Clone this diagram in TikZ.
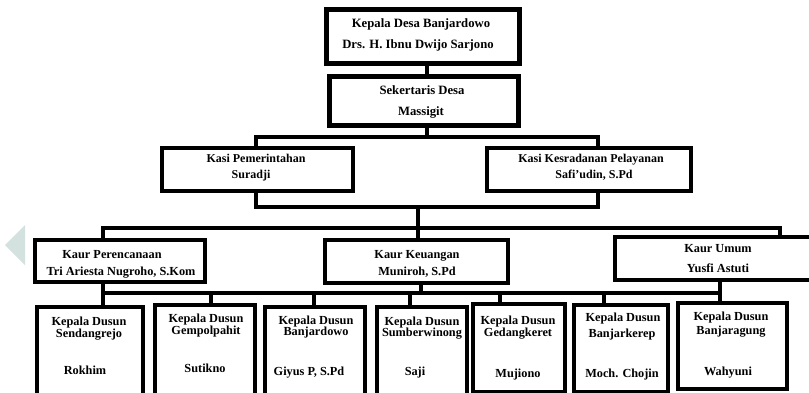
\documentclass[tikz,border=0pt]{standalone}
\usepackage{fontspec}
\setmainfont{Liberation Serif}
\definecolor{wmcol}{RGB}{212,226,223}
\begin{document}
\begin{tikzpicture}[x=1pt,y=-1pt,
  bx/.style={draw=black, fill=white, inner sep=0pt, outer sep=0pt, line width=4.5pt},
  lbl/.style={inner sep=0pt, anchor=base, font=\bfseries\fontsize{12.3}{14}\selectfont},
  lbltop/.style={lbl, font=\bfseries\fontsize{12.7}{14}\selectfont},
  lblkasi/.style={lbl, font=\bfseries\fontsize{12}{14}\selectfont},
  conn/.style={draw=black, line width=4pt, line cap=rect}]
\useasboundingbox (0,0) rectangle (809,392);
\clip (0,0) rectangle (809,392);
\fill[white] (0,0) rectangle (809,392);
% watermark
\fill[wmcol] (5,245) -- (25,225) -- (25,265) -- cycle;

% top
\node[bx, line width=5pt, minimum width=193pt, minimum height=54pt] (k1) at (422.5,36) {};
\node[lbltop] (k1a) at (421,27) {Kepala Desa Banjardowo};
\node[lbltop] (k1b) at (418,48) {Drs. H. Ibnu Dwijo Sarjono};

\node[bx, line width=5pt, minimum width=189pt, minimum height=49pt] (sek) at (423.5,100.5) {};
\node[lbltop] (seka) at (422,94) {Sekertaris Desa};
\node[lbltop] (sekb) at (421,115) {Massigit};

% kasi
\node[bx, line width=4pt, minimum width=191pt, minimum height=43pt] (kp) at (257.5,169.5) {};
\node[lblkasi] (kpa) at (256,162) {Kasi Pemerintahan};
\node[lblkasi] (kpb) at (251,178) {Suradji};
\node[bx, line width=4pt, minimum width=204pt, minimum height=43pt] (kk) at (589,169.5) {};
\node[lblkasi] (kka) at (591,162) {Kasi Kesradanan Pelayanan};
\node[lblkasi] (kkb) at (594,178) {Safi'udin, S.Pd};

% kaur
\node[bx, minimum width=170pt, minimum height=42pt] (kr) at (120,261) {};
\node[lbl] (kra) at (112,258) {Kaur Perencanaan};
\node[lbl] (krb) at (121,275) {Tri Ariesta Nugroho, S.Kom};
\node[bx, minimum width=183pt, minimum height=43pt] (kg) at (416.5,261.5) {};
\node[lbl] (kga) at (417,258) {Kaur Keuangan};
\node[lbl] (kgb) at (417,275) {Muniroh, S.Pd};
\node[bx, minimum width=215pt, minimum height=43pt] (ku) at (722.5,258.5) {};
\node[lbl] (kua) at (718,252) {Kaur Umum};
\node[lbl] (kub) at (718,272) {Yusfi Astuti};

% dusun
\node[bx, minimum width=106pt, minimum height=91pt] (ds1) at (90,352.5) {};
\node[lbl] (ds1a) at (89,325) {Kepala Dusun};
\node[lbl] (ds1b) at (89,337) {Sendangrejo};
\node[lbl] (ds1c) at (85,374) {Rokhim};
\node[bx, minimum width=100pt, minimum height=93pt] (ds2) at (205,351.5) {};
\node[lbl] (ds2a) at (206,322) {Kepala Dusun};
\node[lbl] (ds2b) at (206,334) {Gempolpahit};
\node[lbl] (ds2c) at (205,372) {Sutikno};
\node[bx, minimum width=100pt, minimum height=91pt] (ds3) at (315,352.5) {};
\node[lbl] (ds3a) at (316,324) {Kepala Dusun};
\node[lbl] (ds3b) at (316,335) {Banjardowo};
\node[lbl] (ds3c) at (309,375) {Giyus P, S.Pd};
\node[bx, minimum width=90pt, minimum height=91pt] (ds4) at (422,352.5) {};
\node[lbl] (ds4a) at (422,325) {Kepala Dusun};
\node[lbl] (ds4b) at (422,336) {Sumberwinong};
\node[lbl] (ds4c) at (415,375) {Saji};
\node[bx, minimum width=92pt, minimum height=88pt] (ds5) at (519,348) {};
\node[lbl] (ds5a) at (518,324) {Kepala Dusun};
\node[lbl] (ds5b) at (518,336) {Gedangkeret};
\node[lbl] (ds5c) at (518,377) {Mujiono};
\node[bx, minimum width=94pt, minimum height=87pt] (ds6) at (621,348.5) {};
\node[lbl] (ds6a) at (623,321) {Kepala Dusun};
\node[lbl] (ds6b) at (622,337) {Banjarkerep};
\node[lbl] (ds6c) at (622,377) {Moch. Chojin};
\node[bx, minimum width=109pt, minimum height=86pt] (ds7) at (732.5,346) {};
\node[lbl] (ds7a) at (731,320) {Kepala Dusun};
\node[lbl] (ds7b) at (731,334) {Banjaragung};
\node[lbl] (ds7c) at (728,375) {Wahyuni};

% connectors
\coordinate (c427) at (427,137);
\draw[conn] (k1.south -| c427) -- (sek.north -| c427);
\draw[conn] (sek.south -| c427) -- (c427);
\coordinate (a1) at (256,137);
\coordinate (a2) at (598,137);
\draw[conn] (kp.north -| a1) -- (a1) -- (a2) -- (kk.north -| a2);
\coordinate (b1) at (256,207);
\coordinate (b2) at (598,207);
\draw[conn] (kp.south -| b1) -- (b1) -- (b2) -- (kk.south -| b2);
\coordinate (bm) at (418,207);
\draw[conn] (bm) -- (kg.north -| bm);
\coordinate (h1L) at (103,228);
\coordinate (h1R) at (780,228);
\draw[conn] (kr.north -| h1L) -- (h1L) -- (h1R) -- (ku.north -| h1R);
% lower
\coordinate (h2L) at (103,293);
\coordinate (h2R) at (720,293);
\draw[conn] (h2L) -- (h2R);
\draw[conn] (kr.south -| h2L) -- (ds1.north -| h2L);
\coordinate (kgj) at (421,293);
\draw[conn] (kg.south -| kgj) -- (kgj);
\draw[conn] (ku.south -| h2R) -- (ds7.north -| h2R);
\coordinate (j2) at (211,293);
\draw[conn] (j2) -- (ds2.north -| j2);
\coordinate (j3) at (314,293);
\draw[conn] (j3) -- (ds3.north -| j3);
\coordinate (j4) at (410,293);
\draw[conn] (j4) -- (ds4.north -| j4);
\coordinate (j5) at (500,293);
\draw[conn] (j5) -- (ds5.north -| j5);
\coordinate (j6) at (604,293);
\draw[conn] (j6) -- (ds6.north -| j6);
\end{tikzpicture}
\end{document}
